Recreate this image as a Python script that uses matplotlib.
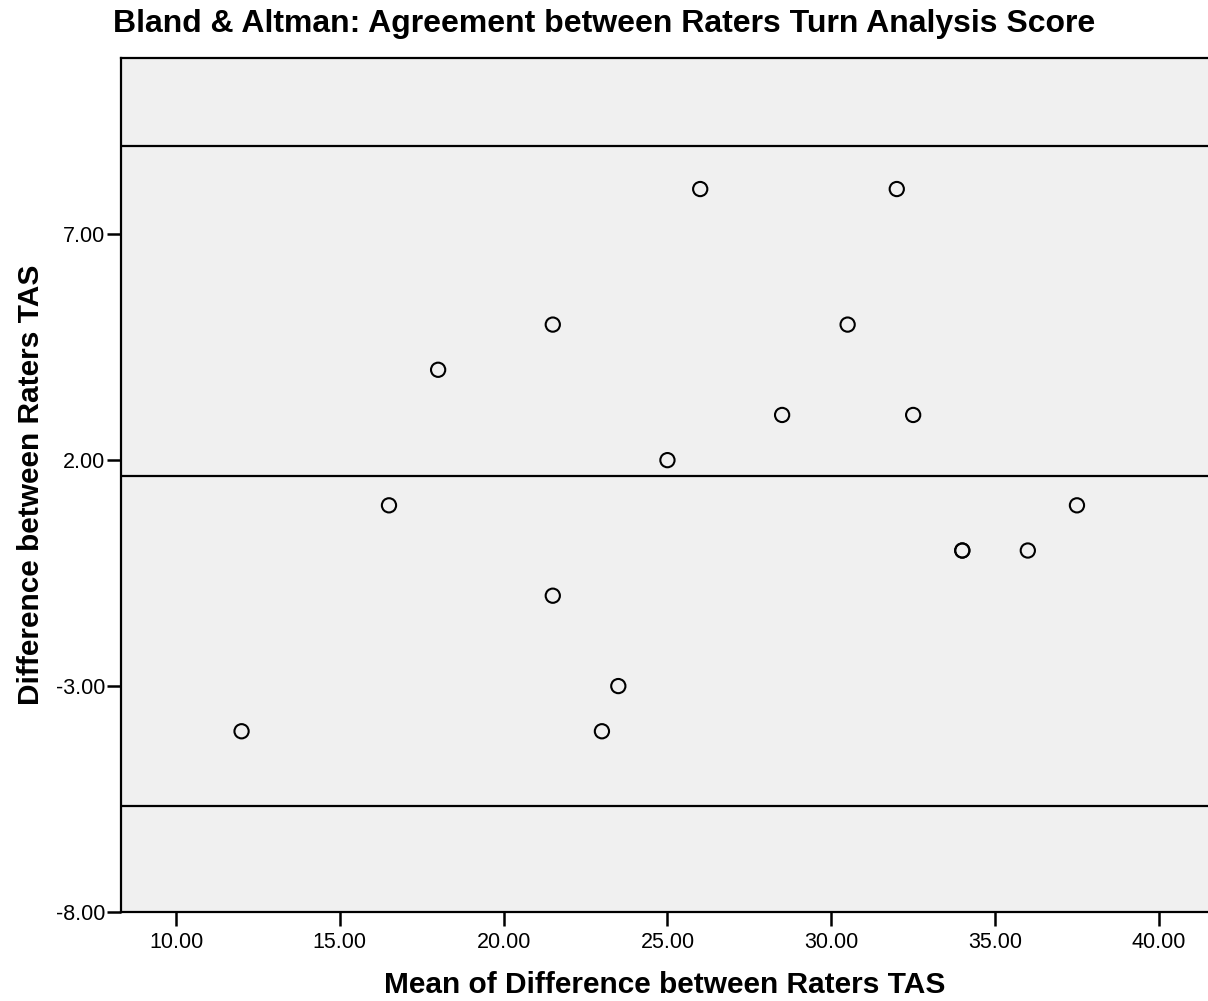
import matplotlib
matplotlib.use("Agg")
import matplotlib.pyplot as plt

plt.rcParams['font.family'] = ['Liberation Sans', 'DejaVu Sans']

mean_vals = [12.0, 16.5, 18.0, 21.5, 21.5, 23.0, 23.5, 25.0, 26.0, 28.5, 30.5, 32.0, 32.5, 34.0, 34.0, 36.0, 37.5]
diff_vals = [-4, 1, 4, 5, -1, -4, -3, 2, 8, 3, 5, 8, 3, 0, 0, 0, 1]
ref_lines = [8.95, 1.65, -5.65]
x_ticks = [10, 15, 20, 25, 30, 35, 40]
y_ticks = [-8, -3, 2, 7]

fig = plt.figure(figsize=(12.08, 10.01), dpi=100)
ax = fig.add_axes([121/1208, 89/1001, 1 - 121/1208, (912-58)/1001])
ax.set_facecolor('#f0f0f0')
fig.patch.set_facecolor('white')

for y in ref_lines:
    ax.axhline(y, color='black', lw=1.6, zorder=2)

ax.scatter(mean_vals, diff_vals, s=105, facecolors='none', edgecolors='black', linewidths=1.5, zorder=3)

ax.set_xlim(8.32, 41.5)
ax.set_ylim(-8, 10.9)
ax.set_xticks(x_ticks)
ax.set_xticklabels([f"{v:.2f}" for v in x_ticks])
ax.set_yticks(y_ticks)
ax.set_yticklabels([f"{v:.2f}" for v in y_ticks])
ax.tick_params(axis='both', labelsize=15.5, width=1.8, length=10, direction='out', colors='black')
ax.tick_params(axis='x', pad=4.5)
ax.tick_params(axis='y', pad=1.5)
for s in ['left', 'bottom', 'top']:
    ax.spines[s].set_linewidth(1.6)
ax.spines['right'].set_visible(False)

ax.set_xlabel('Mean of Difference between Raters TAS', fontsize=21.5, fontweight='bold', labelpad=13)
ax.set_ylabel('Difference between Raters TAS', fontsize=21.5, fontweight='bold', labelpad=8)
fig.text(0.5, 1 - 24/1001, 'Bland & Altman: Agreement between Raters Turn Analysis Score',
         ha='center', va='center', fontsize=23, fontweight='bold')

fig.savefig('out.png', dpi=100)
